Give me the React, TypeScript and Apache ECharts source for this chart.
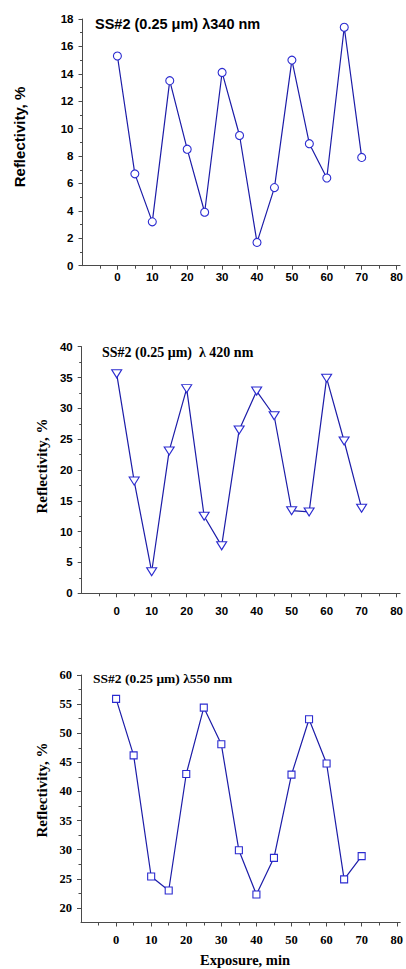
import React, { useEffect, useRef } from "react";
import * as echarts from "echarts";

const exposure = [0, 5, 10, 15, 20, 25, 30, 35, 40, 45, 50, 55, 60, 65, 70];
const r340 = [15.3, 6.7, 3.2, 13.5, 8.5, 3.9, 14.1, 9.5, 1.7, 5.7, 15.0, 8.9, 6.4, 17.4, 7.9];
const r420 = [35.6, 18.2, 3.5, 23.1, 33.2, 12.5, 7.7, 26.5, 32.8, 28.8, 13.4, 13.2, 34.9, 24.7, 13.8];
const r550 = [55.9, 46.2, 25.4, 23.0, 43.0, 54.4, 48.1, 29.9, 22.3, 28.6, 42.9, 52.4, 44.8, 24.9, 28.9];

const xTicks = [0, 10, 20, 30, 40, 50, 60, 70, 80];
const xMinorTicks = [-5, 5, 15, 25, 35, 45, 55, 65, 75];
const y1Ticks = [0, 2, 4, 6, 8, 10, 12, 14, 16, 18];
const y1Minor = [1, 3, 5, 7, 9, 11, 13, 15, 17];
const y2Ticks = [0, 5, 10, 15, 20, 25, 30, 35, 40];
const y2Minor = [2.5, 7.5, 12.5, 17.5, 22.5, 27.5, 32.5, 37.5];
const y3Ticks = [20, 25, 30, 35, 40, 45, 50, 55, 60];
const y3Minor = [22.5, 27.5, 32.5, 37.5, 42.5, 47.5, 52.5, 57.5];

const titles = ["SS#2 (0.25 μm) λ340 nm", "SS#2 (0.25 μm)  λ 420 nm", "SS#2 (0.25 μm) λ550 nm"];
const yName = "Reflectivity, %";
const xName = "Exposure, min";

const SANS = "Liberation Sans, Arial, sans-serif";
const SERIF = "Liberation Serif, Times New Roman, serif";
const AXIS = "#4a4a4a";
const LINE = "#1c1ca8";
const MARK = "#2b2bd0";

export default function App() {
  const ref = useRef<HTMLDivElement>(null);
  useEffect(() => {
    document.body.style.margin = "0";
    const chart = echarts.init(ref.current!, null, { renderer: "svg" });

    const grids = [
      { left: 82.5, top: 19, width: 323, height: 246.7 },
      { left: 81.7, top: 346.7, width: 323, height: 246.6 },
      { left: 81, top: 675, width: 324, height: 247.5 },
    ];
    const yCfg = [
      { min: 0, max: 18, ticks: y1Ticks, minor: y1Minor, font: SANS, size: 11.5, xMargin: 5, yMargin: 9, xFont: SANS },
      { min: 0, max: 40, ticks: y2Ticks, minor: y2Minor, font: SANS, size: 11.5, xMargin: 12, yMargin: 9, xFont: SANS },
      { min: 17.5, max: 60, ticks: y3Ticks, minor: y3Minor, font: SERIF, size: 12.5, xMargin: 11, yMargin: 9, xFont: SERIF },
    ];

    const xAxis: any[] = [];
    const yAxis: any[] = [];
    yCfg.forEach((c, i) => {
      xAxis.push({
        type: "value", gridIndex: i, min: -10, max: 81, position: "bottom",
        axisLine: { show: true, onZero: false, lineStyle: { color: AXIS, width: 1 } },
        axisTick: { show: true, customValues: xTicks, length: 4, lineStyle: { color: AXIS } },
        axisLabel: { show: true, customValues: xTicks, margin: c.xMargin, color: "#000", fontFamily: c.xFont, fontWeight: "bold", fontSize: c.size },
        splitLine: { show: false },
      });
      xAxis.push({
        type: "value", gridIndex: i, min: -10, max: 81, position: "bottom", offset: 0,
        axisLine: { show: false, onZero: false },
        axisTick: { show: true, customValues: xMinorTicks, length: 3, lineStyle: { color: AXIS } },
        axisLabel: { show: false },
        splitLine: { show: false },
      });
      yAxis.push({
        type: "value", gridIndex: i, min: c.min, max: c.max, position: "left",
        axisLine: { show: true, onZero: false, lineStyle: { color: AXIS, width: 1 } },
        axisTick: { show: true, customValues: c.ticks, length: 4, lineStyle: { color: AXIS } },
        axisLabel: { show: true, customValues: c.ticks, margin: c.yMargin, color: "#000", fontFamily: c.font, fontWeight: "bold", fontSize: c.size },
        splitLine: { show: false },
      });
      yAxis.push({
        type: "value", gridIndex: i, min: c.min, max: c.max, position: "left", offset: 0,
        axisLine: { show: false, onZero: false },
        axisTick: { show: true, customValues: c.minor, length: 2.5, lineStyle: { color: AXIS } },
        axisLabel: { show: false },
        splitLine: { show: false },
      });
    });

    const mk = (vals: number[], i: number, symbol: string, size: any, rotate = 0) => ({
      type: "line",
      xAxisIndex: i * 2,
      yAxisIndex: i * 2,
      data: exposure.map((x, k) => [x, vals[k]]),
      symbol,
      symbolSize: size,
      symbolRotate: rotate,
      showSymbol: true,
      lineStyle: { color: LINE, width: 1.2 },
      itemStyle: { color: "#fff", borderColor: MARK, borderWidth: 1.1 },
      z: 3,
    });

    const graphic: any[] = [
      { type: "text", x: 95, y: 24, style: { text: titles[0], font: `bold 14.5px ${SANS}`, fill: "#000", verticalAlign: "middle" } },
      { type: "text", x: 102, y: 352, style: { text: titles[1], font: `bold 14px ${SERIF}`, fill: "#000", verticalAlign: "middle" } },
      { type: "text", x: 93, y: 678, style: { text: titles[2], font: `bold 13.5px ${SERIF}`, fill: "#000", verticalAlign: "middle" } },
      { type: "text", x: 19, y: 137, rotation: Math.PI / 2, style: { text: yName, font: `bold 15px ${SANS}`, fill: "#000", align: "center", verticalAlign: "middle" } },
      { type: "text", x: 42, y: 466, rotation: Math.PI / 2, style: { text: yName, font: `bold 15px ${SERIF}`, fill: "#000", align: "center", verticalAlign: "middle" } },
      { type: "text", x: 42, y: 790, rotation: Math.PI / 2, style: { text: yName, font: `bold 15px ${SERIF}`, fill: "#000", align: "center", verticalAlign: "middle" } },
      { type: "text", x: 245, y: 960, style: { text: xName, font: `bold 14.5px ${SERIF}`, fill: "#000", align: "center", verticalAlign: "middle" } },
    ];

    chart.setOption({
      animation: false,
      backgroundColor: "#fff",
      grid: grids,
      xAxis,
      yAxis,
      series: [
        mk(r340, 0, "circle", 8),
        mk(r420, 1, "triangle", [10, 8], 180),
        mk(r550, 2, "rect", 7),
      ],
      graphic,
    });
    return () => chart.dispose();
  }, []);
  return <div ref={ref} style={{ position: "absolute", left: 0, top: 0, width: 406, height: 969 }} />;
}
